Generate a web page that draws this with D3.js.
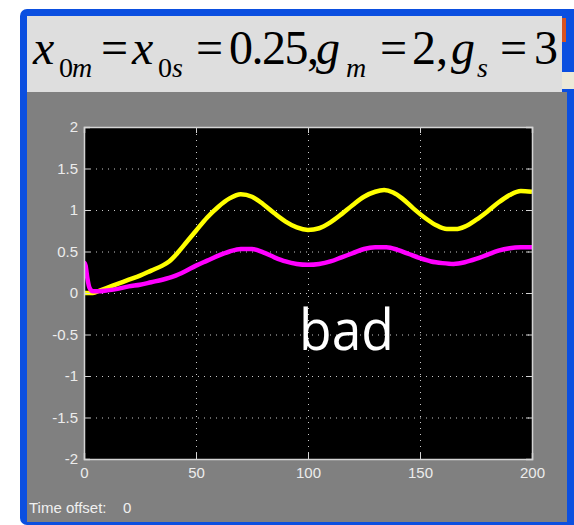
<!DOCTYPE html>
<html>
<head>
<meta charset="utf-8">
<script src="https://cdn.jsdelivr.net/npm/d3@7.9.0/dist/d3.min.js"></script>
<style>
  body { margin: 0; background: #fff; }
  svg { display: block; }
  .formula { font-family: 'Liberation Serif', 'DejaVu Serif', serif; fill: #000; }
</style>
</head>
<body>
<svg id="chart" width="574" height="525"></svg>
<script>
// scope traces
const yellowTime = [0, 4, 7, 10, 15, 20, 25, 30, 35, 38, 42, 46, 50, 55, 60, 65, 70, 75, 80, 85, 90, 95, 100, 105, 110, 115, 120, 125, 130, 134, 138, 142, 147, 152, 157, 162, 166, 170, 175, 180, 185, 190, 195, 200];
const yellowValues = [0, 0, 0.03, 0.06, 0.11, 0.16, 0.21, 0.27, 0.33, 0.38, 0.49, 0.62, 0.75, 0.91, 1.04, 1.14, 1.19, 1.16, 1.07, 0.96, 0.86, 0.79, 0.76, 0.78, 0.85, 0.95, 1.06, 1.16, 1.22, 1.24, 1.21, 1.14, 1.02, 0.91, 0.82, 0.77, 0.77, 0.80, 0.88, 0.98, 1.09, 1.18, 1.23, 1.22];

const magentaTime = [0, 0.7, 1.5, 2.5, 4, 7, 10, 15, 20, 25, 30, 35, 40, 45, 50, 55, 60, 65, 70, 75, 80, 85, 90, 95, 100, 105, 110, 115, 120, 125, 130, 135, 140, 145, 150, 155, 160, 165, 170, 175, 180, 185, 190, 195, 200];
const magentaValues = [0.37, 0.33, 0.18, 0.06, 0.02, 0.02, 0.03, 0.05, 0.08, 0.1, 0.13, 0.16, 0.2, 0.26, 0.33, 0.39, 0.45, 0.5, 0.53, 0.53, 0.49, 0.43, 0.38, 0.35, 0.34, 0.35, 0.38, 0.43, 0.48, 0.53, 0.55, 0.55, 0.52, 0.47, 0.42, 0.38, 0.36, 0.35, 0.37, 0.41, 0.46, 0.51, 0.54, 0.55, 0.55];

const xTicks = [0, 50, 100, 150, 200];
const yTicks = [-2, -1.5, -1, -0.5, 0, 0.5, 1, 1.5, 2];

// pieces of the header formula: text, italic, subscript, left x
const formulaParts = [
  ['x', true, false, 33], ['0', false, true, 59], ['m', true, true, 72],
  ['=', false, false, 101],
  ['x', true, false, 132], ['0', false, true, 158], ['s', true, true, 172],
  ['=', false, false, 196],
  ['0.25,', false, false, 229],
  ['g', true, false, 316], ['m', true, true, 346],
  ['=', false, false, 380],
  ['2,', false, false, 412],
  ['g', true, false, 451], ['s', true, true, 477],
  ['=', false, false, 500],
  ['3', false, false, 534]
];

const svg = d3.select('#chart');

// window frame
svg.append('rect').attr('x', 20).attr('y', 9).attr('width', 560).attr('height', 516)
  .attr('rx', 7).attr('fill', '#0b4fe0');
svg.append('rect').attr('x', 27).attr('y', 16).attr('width', 535).attr('height', 76).attr('fill', '#dedede');
svg.append('rect').attr('x', 562).attr('y', 18).attr('width', 4).attr('height', 24).attr('fill', '#d9531f');
svg.append('rect').attr('x', 562).attr('y', 72).attr('width', 12).attr('height', 17).attr('fill', '#ece9d8');
svg.append('rect').attr('x', 27).attr('y', 92).attr('width', 540).attr('height', 430).attr('fill', '#808080');

// title formula
const title = svg.append('text').attr('class', 'formula').attr('font-size', 48);
formulaParts.forEach(([txt, italic, sub, px]) => {
  title.append('tspan')
    .attr('x', px)
    .attr('y', sub ? 77 : 64)
    .attr('font-size', sub ? 28 : 48)
    .attr('font-style', italic ? 'italic' : 'normal')
    .attr('letter-spacing', txt.length > 2 ? -1.5 : 0)
    .text(txt);
});

// plot
const plotLeft = 84, plotRight = 532, plotTop = 127, plotBottom = 459;
const x = d3.scaleLinear().domain([0, 200]).range([plotLeft, plotRight]);
const y = d3.scaleLinear().domain([-2, 2]).range([plotBottom, plotTop]);

svg.append('rect').attr('x', plotLeft).attr('y', plotTop)
  .attr('width', plotRight - plotLeft).attr('height', plotBottom - plotTop).attr('fill', '#000');

const gridX = svg.append('g').attr('transform', `translate(0,${plotBottom})`)
  .call(d3.axisBottom(x).tickValues(xTicks.slice(1, -1)).tickSize(-(plotBottom - plotTop)).tickFormat(''));
const gridY = svg.append('g').attr('transform', `translate(${plotLeft},0)`)
  .call(d3.axisLeft(y).tickValues(yTicks.slice(1, -1)).tickSize(-(plotRight - plotLeft)).tickFormat(''));
[gridX, gridY].forEach((g) => {
  g.select('.domain').remove();
  g.selectAll('line').attr('stroke', '#c8c8c8').attr('stroke-dasharray', '1,5');
});

svg.append('clipPath').attr('id', 'clip')
  .append('rect').attr('x', plotLeft).attr('y', plotTop)
  .attr('width', plotRight - plotLeft).attr('height', plotBottom - plotTop);

const line = d3.line().x((d) => x(d[0])).y((d) => y(d[1])).curve(d3.curveMonotoneX);

svg.append('path')
  .datum(d3.zip(yellowTime, yellowValues))
  .attr('d', line)
  .attr('clip-path', 'url(#clip)')
  .attr('fill', 'none').attr('stroke', '#ffff00').attr('stroke-width', 4.5)
  .attr('stroke-linejoin', 'round');

svg.append('path')
  .datum(d3.zip(magentaTime, magentaValues))
  .attr('d', line)
  .attr('clip-path', 'url(#clip)')
  .attr('fill', 'none').attr('stroke', '#ff00ff').attr('stroke-width', 4.5)
  .attr('stroke-linejoin', 'round');

// axes, ticks pointing inwards
const fmt = (d) => String(d);
const axisColor = '#d4d4d4';
const axes = [
  svg.append('g').attr('transform', `translate(0,${plotBottom})`)
    .call(d3.axisBottom(x).tickValues(xTicks).tickSize(-6).tickPadding(8).tickFormat(fmt)),
  svg.append('g').attr('transform', `translate(${plotLeft},0)`)
    .call(d3.axisLeft(y).tickValues(yTicks).tickSize(-6).tickPadding(6).tickFormat(fmt)),
  svg.append('g').attr('transform', `translate(0,${plotTop})`)
    .call(d3.axisTop(x).tickValues(xTicks).tickSize(-6).tickFormat('')),
  svg.append('g').attr('transform', `translate(${plotRight},0)`)
    .call(d3.axisRight(y).tickValues(yTicks).tickSize(-6).tickFormat(''))
];
axes.forEach((g) => {
  g.select('.domain').attr('stroke', axisColor).attr('stroke-width', 1.5);
  g.selectAll('line').attr('stroke', axisColor);
  g.selectAll('text')
    .attr('fill', '#ececec')
    .attr('font-family', '"Liberation Sans", Arial, sans-serif')
    .attr('font-size', 15);
});

// overlay note
svg.append('text')
  .attr('x', 299).attr('y', 350)
  .attr('font-family', '"Open Sans", sans-serif')
  .attr('font-size', 57)
  .attr('textLength', 95).attr('lengthAdjust', 'spacingAndGlyphs')
  .attr('fill', '#fff')
  .text('bad');

// footer
svg.append('text').attr('x', 29).attr('y', 513)
  .attr('font-family', '"Liberation Sans", Arial, sans-serif').attr('font-size', 15)
  .attr('fill', '#f0f0f0').text('Time offset:');
svg.append('text').attr('x', 123).attr('y', 513)
  .attr('font-family', '"Liberation Sans", Arial, sans-serif').attr('font-size', 15)
  .attr('fill', '#f0f0f0').text('0');
</script>
</body>
</html>
